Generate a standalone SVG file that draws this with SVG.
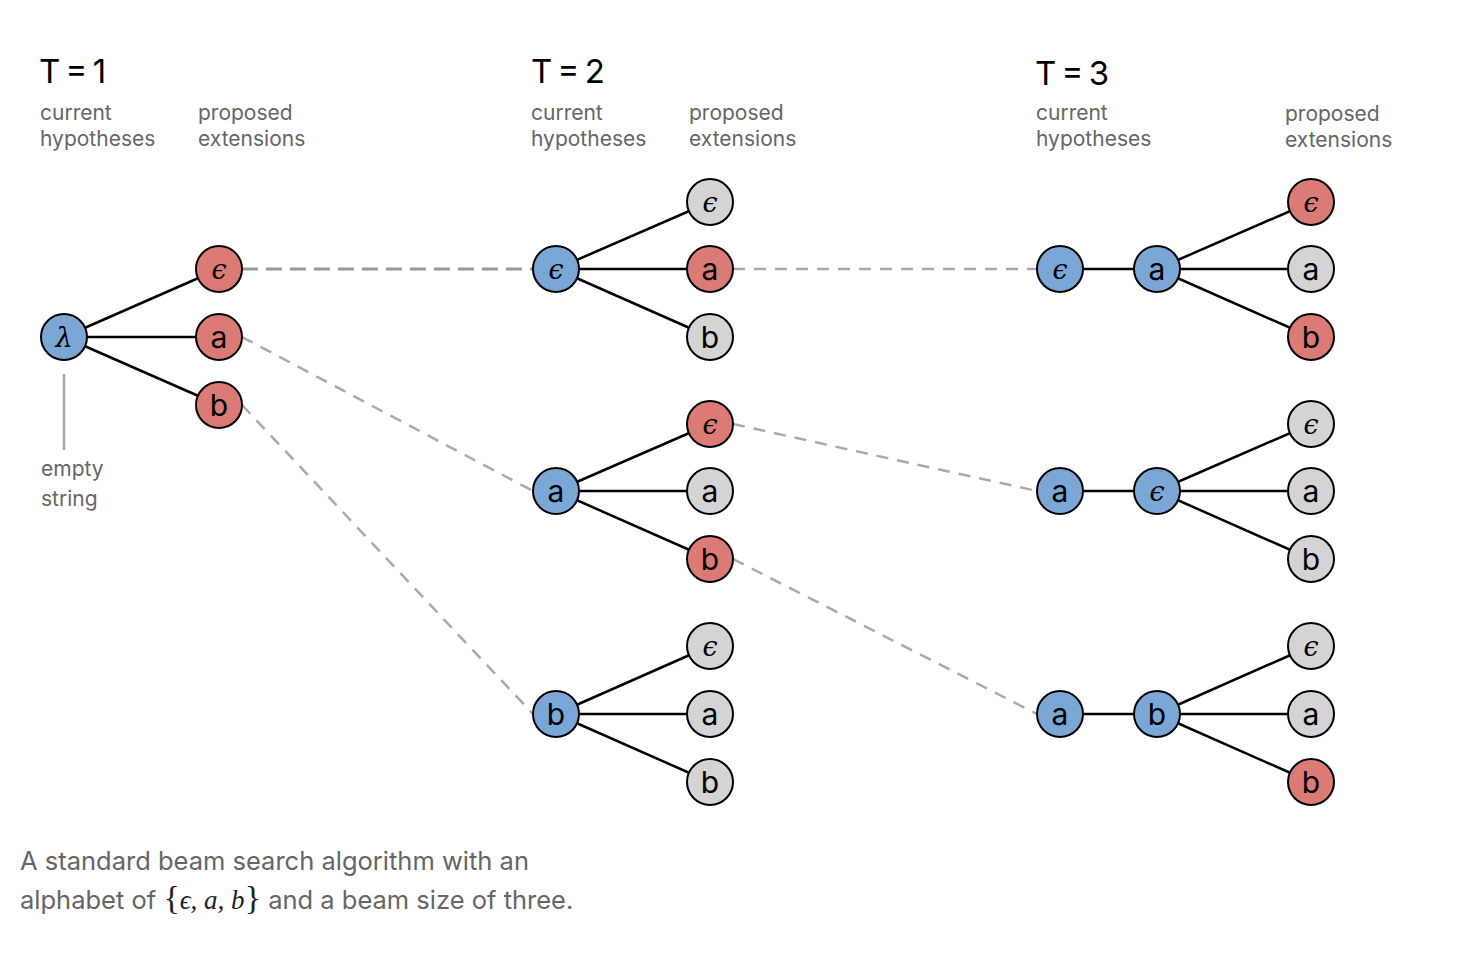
<svg xmlns="http://www.w3.org/2000/svg" width="1484" height="956" viewBox="0 0 1484 956">
  <style>
    .title { font-family: Inter, "Liberation Sans", sans-serif; font-size: 33px; fill: #000; word-spacing: -4px; }
    .sub { font-family: Inter, "Liberation Sans", sans-serif; font-size: 21px; fill: #666; }
    .cap { font-family: Inter, "Liberation Sans", sans-serif; font-size: 25.5px; fill: #666; }
    .math { font-family: "Liberation Serif", "DejaVu Serif", serif; font-style: italic; font-size: 27px; fill: #222; }
    .brace { font-family: "Liberation Serif", "DejaVu Serif", serif; font-style: normal; font-size: 34px; fill: #222; }
    .node circle { stroke: #000; stroke-width: 2; }
    .cur circle { fill: #7ba7d7; }
    .sel circle { fill: #dc7b75; }
    .rej circle { fill: #d4d4d4; }
    .node text { font-family: Inter, "Liberation Sans", sans-serif; font-size: 30px; fill: #000; text-anchor: middle; dominant-baseline: central; }
    .node text.g { font-family: "DejaVu Serif", "Liberation Serif", serif; font-style: italic; font-size: 27px; }
    .edge { stroke: #000; stroke-width: 2.5; fill: none; }
    .link { stroke: #aaa; stroke-width: 2.5; stroke-dasharray: 12 9; fill: none; }
    .link.strong { stroke: #999; stroke-width: 3; stroke-dasharray: 16 8; }
  </style>

  <!-- column headers -->
  <g id="headers">
    <text class="title" x="39" y="83">T = 1</text>
    <text class="sub" x="40" y="120">current</text>
    <text class="sub" x="40" y="146">hypotheses</text>
    <text class="sub" x="198" y="120">proposed</text>
    <text class="sub" x="198" y="146">extensions</text>

    <text class="title" x="531" y="83">T = 2</text>
    <text class="sub" x="531" y="120">current</text>
    <text class="sub" x="531" y="146">hypotheses</text>
    <text class="sub" x="689" y="120">proposed</text>
    <text class="sub" x="689" y="146">extensions</text>

    <text class="title" x="1035" y="85">T = 3</text>
    <text class="sub" x="1036" y="120">current</text>
    <text class="sub" x="1036" y="146">hypotheses</text>
    <text class="sub" x="1285" y="121">proposed</text>
    <text class="sub" x="1285" y="147">extensions</text>
  </g>

  <!-- connectors -->
  <g id="connectors">
    <!-- T=1 tree -->
    <line class="edge" x1="64" y1="337" x2="219" y2="269"/>
    <line class="edge" x1="64" y1="337" x2="219" y2="337"/>
    <line class="edge" x1="64" y1="337" x2="219" y2="405"/>
    <!-- T=2 trees -->
    <line class="edge" x1="556" y1="269" x2="710" y2="202"/>
    <line class="edge" x1="556" y1="269" x2="710" y2="269"/>
    <line class="edge" x1="556" y1="269" x2="710" y2="337"/>
    <line class="edge" x1="556" y1="491" x2="710" y2="424"/>
    <line class="edge" x1="556" y1="491" x2="710" y2="491"/>
    <line class="edge" x1="556" y1="491" x2="710" y2="559"/>
    <line class="edge" x1="556" y1="714" x2="710" y2="646"/>
    <line class="edge" x1="556" y1="714" x2="710" y2="714"/>
    <line class="edge" x1="556" y1="714" x2="710" y2="782"/>
    <!-- T=3 trees -->
    <line class="edge" x1="1060" y1="269" x2="1157" y2="269"/>
    <line class="edge" x1="1157" y1="269" x2="1311" y2="202"/>
    <line class="edge" x1="1157" y1="269" x2="1311" y2="269"/>
    <line class="edge" x1="1157" y1="269" x2="1311" y2="337"/>
    <line class="edge" x1="1060" y1="491" x2="1157" y2="491"/>
    <line class="edge" x1="1157" y1="491" x2="1311" y2="424"/>
    <line class="edge" x1="1157" y1="491" x2="1311" y2="491"/>
    <line class="edge" x1="1157" y1="491" x2="1311" y2="559"/>
    <line class="edge" x1="1060" y1="714" x2="1157" y2="714"/>
    <line class="edge" x1="1157" y1="714" x2="1311" y2="646"/>
    <line class="edge" x1="1157" y1="714" x2="1311" y2="714"/>
    <line class="edge" x1="1157" y1="714" x2="1311" y2="782"/>
    <!-- hypotheses carried to the next step -->
    <line class="link strong" x1="242" y1="269" x2="533" y2="269"/>
    <line class="link" x1="242" y1="337" x2="533" y2="491"/>
    <line class="link" x1="242" y1="405" x2="533" y2="714"/>
    <line class="link" x1="733" y1="269" x2="1037" y2="269"/>
    <line class="link" x1="733" y1="424" x2="1037" y2="491"/>
    <line class="link" x1="733" y1="559" x2="1037" y2="714"/>
    <!-- annotation pointer -->
    <line x1="64" y1="374" x2="64" y2="450" stroke="#aaa" stroke-width="2.5"/>
  </g>

  <!-- T=1 nodes -->
  <g id="t1-root" class="node cur" transform="translate(64,337)"><circle r="23"/><text class="g">λ</text></g>
  <g id="t1-eps" class="node sel" transform="translate(219,269)"><circle r="23"/><text class="g">ϵ</text></g>
  <g id="t1-a" class="node sel" transform="translate(219,337)"><circle r="23"/><text>a</text></g>
  <g id="t1-b" class="node sel" transform="translate(219,405)"><circle r="23"/><text>b</text></g>

  <!-- T=2 nodes -->
  <g id="t2-eps" class="node cur" transform="translate(556,269)"><circle r="23"/><text class="g">ϵ</text></g>
  <g id="t2-eps-eps" class="node rej" transform="translate(710,202)"><circle r="23"/><text class="g">ϵ</text></g>
  <g id="t2-eps-a" class="node sel" transform="translate(710,269)"><circle r="23"/><text>a</text></g>
  <g id="t2-eps-b" class="node rej" transform="translate(710,337)"><circle r="23"/><text>b</text></g>

  <g id="t2-a" class="node cur" transform="translate(556,491)"><circle r="23"/><text>a</text></g>
  <g id="t2-a-eps" class="node sel" transform="translate(710,424)"><circle r="23"/><text class="g">ϵ</text></g>
  <g id="t2-a-a" class="node rej" transform="translate(710,491)"><circle r="23"/><text>a</text></g>
  <g id="t2-a-b" class="node sel" transform="translate(710,559)"><circle r="23"/><text>b</text></g>

  <g id="t2-b" class="node cur" transform="translate(556,714)"><circle r="23"/><text>b</text></g>
  <g id="t2-b-eps" class="node rej" transform="translate(710,646)"><circle r="23"/><text class="g">ϵ</text></g>
  <g id="t2-b-a" class="node rej" transform="translate(710,714)"><circle r="23"/><text>a</text></g>
  <g id="t2-b-b" class="node rej" transform="translate(710,782)"><circle r="23"/><text>b</text></g>

  <!-- T=3 nodes -->
  <g id="t3-r1-0" class="node cur" transform="translate(1060,269)"><circle r="23"/><text class="g">ϵ</text></g>
  <g id="t3-r1-1" class="node cur" transform="translate(1157,269)"><circle r="23"/><text>a</text></g>
  <g id="t3-r1-eps" class="node sel" transform="translate(1311,202)"><circle r="23"/><text class="g">ϵ</text></g>
  <g id="t3-r1-a" class="node rej" transform="translate(1311,269)"><circle r="23"/><text>a</text></g>
  <g id="t3-r1-b" class="node sel" transform="translate(1311,337)"><circle r="23"/><text>b</text></g>

  <g id="t3-r2-0" class="node cur" transform="translate(1060,491)"><circle r="23"/><text>a</text></g>
  <g id="t3-r2-1" class="node cur" transform="translate(1157,491)"><circle r="23"/><text class="g">ϵ</text></g>
  <g id="t3-r2-eps" class="node rej" transform="translate(1311,424)"><circle r="23"/><text class="g">ϵ</text></g>
  <g id="t3-r2-a" class="node rej" transform="translate(1311,491)"><circle r="23"/><text>a</text></g>
  <g id="t3-r2-b" class="node rej" transform="translate(1311,559)"><circle r="23"/><text>b</text></g>

  <g id="t3-r3-0" class="node cur" transform="translate(1060,714)"><circle r="23"/><text>a</text></g>
  <g id="t3-r3-1" class="node cur" transform="translate(1157,714)"><circle r="23"/><text>b</text></g>
  <g id="t3-r3-eps" class="node rej" transform="translate(1311,646)"><circle r="23"/><text class="g">ϵ</text></g>
  <g id="t3-r3-a" class="node rej" transform="translate(1311,714)"><circle r="23"/><text>a</text></g>
  <g id="t3-r3-b" class="node sel" transform="translate(1311,782)"><circle r="23"/><text>b</text></g>

  <!-- annotation and caption -->
  <g id="note">
    <text class="sub" x="41" y="476">empty</text>
    <text class="sub" x="41" y="506">string</text>
  </g>
  <g id="caption">
    <text class="cap" x="20" y="870">A standard beam search algorithm with an</text>
    <text class="cap" x="20" y="909">alphabet of <tspan class="brace">{</tspan><tspan class="math">ϵ, a, b</tspan><tspan class="brace">}</tspan> and a beam size of three.</text>
  </g>
</svg>
